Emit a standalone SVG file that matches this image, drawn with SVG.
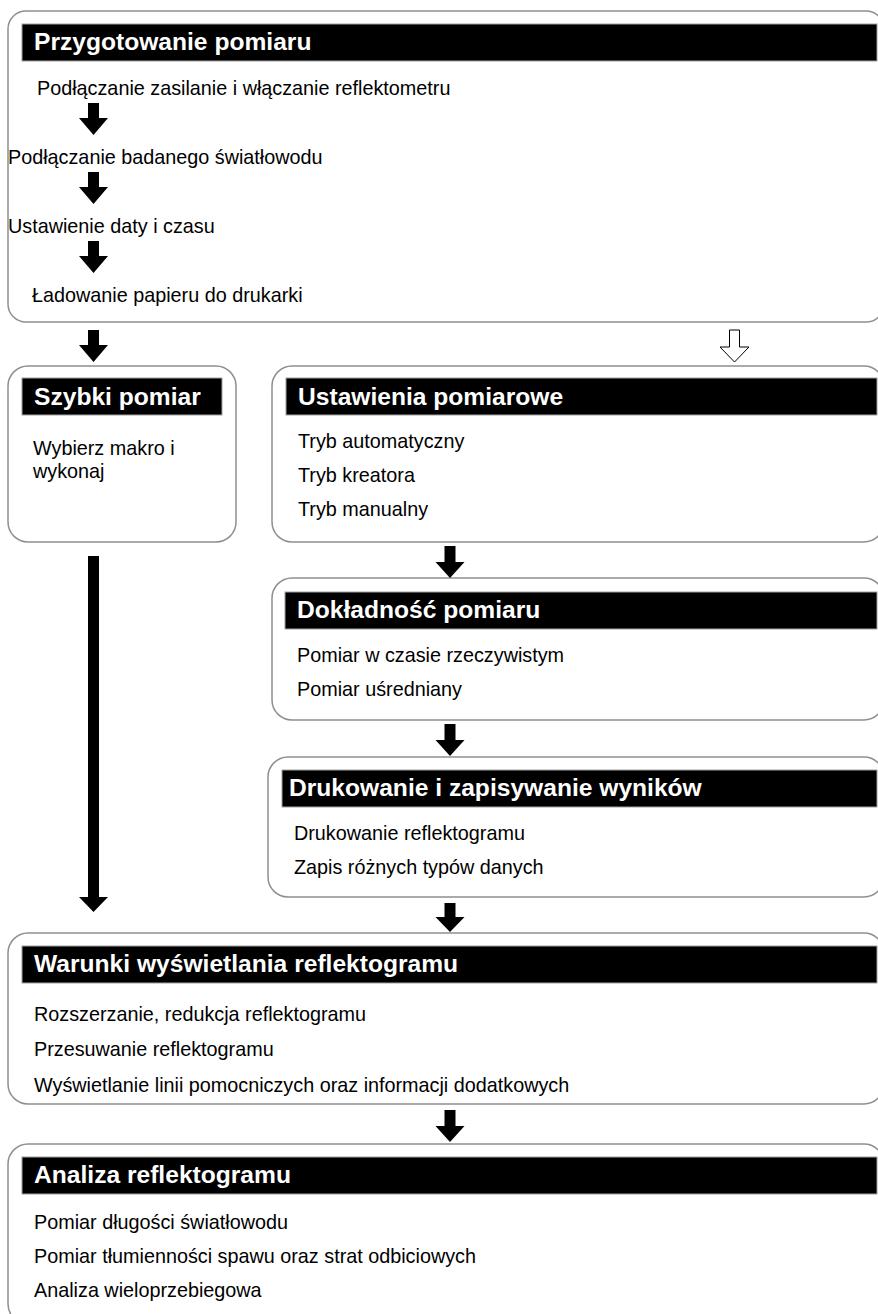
<svg xmlns="http://www.w3.org/2000/svg" width="878" height="1314" viewBox="0 0 878 1314">
  <defs>
    <style>
      .box { fill: #ffffff; stroke: #8f8f8f; stroke-width: 1.5; }
      .bar { fill: #000000; stroke: #a0a0a0; stroke-width: 1; }
      .title { font-family: "Liberation Sans", Arial, Helvetica, sans-serif; font-weight: bold; font-size: 24.6px; fill: #ffffff; }
      .item { font-family: "Liberation Sans", Arial, Helvetica, sans-serif; font-size: 19.8px; fill: #000000; }
      .arrow { fill: #000000; stroke: none; }
      .arrow-open { fill: #ffffff; stroke: #000000; stroke-width: 1; }
    </style>
  </defs>
  <rect width="878" height="1314" fill="#ffffff"/>

  <!-- Przygotowanie pomiaru -->
  <g id="przygotowanie">
    <rect class="box" x="8" y="11" width="876" height="311" rx="18"/>
    <rect class="bar" x="22" y="24" width="855" height="37"/>
    <text class="title" x="34" y="50">Przygotowanie pomiaru</text>
    <text class="item" x="37" y="95">Podłączanie zasilanie i włączanie reflektometru</text>
    <text class="item" x="8" y="164">Podłączanie badanego światłowodu</text>
    <text class="item" x="8" y="233">Ustawienie daty i czasu</text>
    <text class="item" x="32" y="302">Ładowanie papieru do drukarki</text>
    <path class="arrow" d="M88,103 H99 V118 H108 L93.5,135 L79,118 H88 Z"/>
    <path class="arrow" d="M88,172 H99 V187 H108 L93.5,204 L79,187 H88 Z"/>
    <path class="arrow" d="M88,241 H99 V256 H108 L93.5,273 L79,256 H88 Z"/>
  </g>

  <!-- Szybki pomiar -->
  <g id="szybki">
    <rect class="box" x="8" y="366" width="228" height="176" rx="20"/>
    <rect class="bar" x="22" y="378" width="200" height="37"/>
    <text class="title" x="34" y="405">Szybki pomiar</text>
    <text class="item" x="33" y="455">Wybierz makro i</text>
    <text class="item" x="33" y="478">wykonaj</text>
  </g>

  <!-- Ustawienia pomiarowe -->
  <g id="ustawienia">
    <rect class="box" x="272" y="366" width="612" height="176" rx="20"/>
    <rect class="bar" x="286" y="378" width="591" height="37"/>
    <text class="title" x="298" y="405">Ustawienia pomiarowe</text>
    <text class="item" x="298" y="448">Tryb automatyczny</text>
    <text class="item" x="298" y="482">Tryb kreatora</text>
    <text class="item" x="298" y="516">Tryb manualny</text>
  </g>

  <!-- Dokładność pomiaru -->
  <g id="dokladnosc">
    <rect class="box" x="272" y="578" width="612" height="142" rx="20"/>
    <rect class="bar" x="285" y="592" width="592" height="37"/>
    <text class="title" x="297" y="618">Dokładność pomiaru</text>
    <text class="item" x="297" y="662">Pomiar w czasie rzeczywistym</text>
    <text class="item" x="297" y="696">Pomiar uśredniany</text>
  </g>

  <!-- Drukowanie i zapisywanie wyników -->
  <g id="drukowanie">
    <rect class="box" x="268" y="757" width="616" height="140" rx="20"/>
    <rect class="bar" x="282" y="770" width="595" height="37"/>
    <text class="title" x="289" y="796">Drukowanie i zapisywanie wyników</text>
    <text class="item" x="294" y="840">Drukowanie reflektogramu</text>
    <text class="item" x="294" y="874">Zapis różnych typów danych</text>
  </g>

  <!-- Warunki wyświetlania reflektogramu -->
  <g id="warunki">
    <rect class="box" x="8" y="933" width="876" height="171" rx="20"/>
    <rect class="bar" x="22" y="946" width="855" height="37"/>
    <text class="title" x="34" y="972">Warunki wyświetlania reflektogramu</text>
    <text class="item" x="34" y="1021">Rozszerzanie, redukcja reflektogramu</text>
    <text class="item" x="34" y="1056">Przesuwanie reflektogramu</text>
    <text class="item" x="34" y="1092">Wyświetlanie linii pomocniczych oraz informacji dodatkowych</text>
  </g>

  <!-- Analiza reflektogramu -->
  <g id="analiza">
    <rect class="box" x="8" y="1144" width="876" height="180" rx="20"/>
    <rect class="bar" x="22" y="1157" width="855" height="37"/>
    <text class="title" x="34" y="1183">Analiza reflektogramu</text>
    <text class="item" x="34" y="1229">Pomiar długości światłowodu</text>
    <text class="item" x="34" y="1263">Pomiar tłumienności spawu oraz strat odbiciowych</text>
    <text class="item" x="34" y="1297">Analiza wieloprzebiegowa</text>
  </g>

  <!-- Connectors -->
  <g id="connectors">
    <path class="arrow" d="M88,330 H99 V345 H108 L93.5,362 L79,345 H88 Z"/>
    <path class="arrow-open" d="M729.5,330 H739.5 V347 H749 L734.5,362 L720,347 H729.5 Z"/>
    <path class="arrow" d="M88,556 H99 V897 H108 L93.5,912 L79,897 H88 Z"/>
    <path class="arrow" d="M444.5,546 H455.5 V562 H464.5 L450,578 L435.5,562 H444.5 Z"/>
    <path class="arrow" d="M444.5,724 H455.5 V740 H464.5 L450,756 L435.5,740 H444.5 Z"/>
    <path class="arrow" d="M444.5,903 H455.5 V917 H464.5 L450,932 L435.5,917 H444.5 Z"/>
    <path class="arrow" d="M444.5,1110 H455.5 V1126 H464.5 L450,1142 L435.5,1126 H444.5 Z"/>
  </g>
</svg>
